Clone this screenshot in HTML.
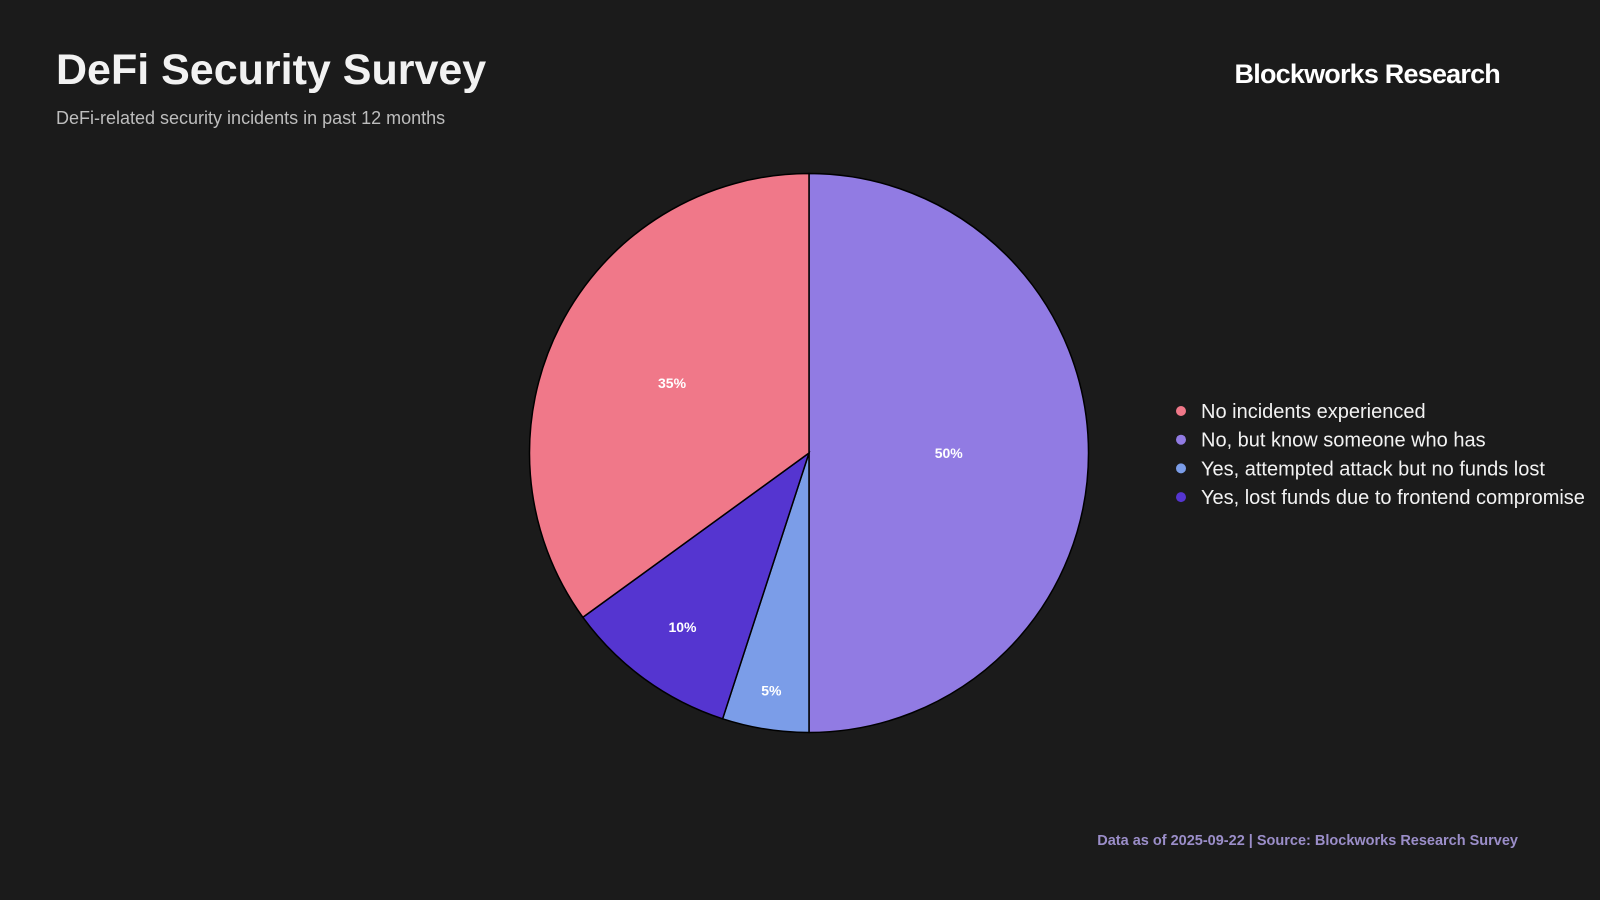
<!DOCTYPE html>
<html><head><meta charset="utf-8"><style>
body{margin:0;width:1600px;height:900px;background:#1b1b1b;overflow:hidden;font-family:"Liberation Sans",Arial,sans-serif;}
.t{position:absolute;white-space:nowrap;}
</style></head><body>
<div class="t" style="left:56px;top:46px;font-size:43px;font-weight:bold;color:#f2f2f2;">DeFi Security Survey</div>
<div class="t" style="left:56px;top:108px;font-size:18px;color:#bdbdbd;">DeFi-related security incidents in past 12 months</div>
<div class="t" style="right:100px;top:59px;font-size:27px;font-weight:bold;color:#fff;letter-spacing:-0.8px;">Blockworks Research</div>
<div class="t" style="right:82px;top:833px;font-size:14.5px;font-weight:bold;color:#9b8ec9;">Data as of 2025-09-22 | Source: Blockworks Research Survey</div>
<svg id="chart" width="1600" height="900" style="position:absolute;left:0;top:0"></svg>
<script>
const categories=["No, but know someone who has","Yes, attempted attack but no funds lost","Yes, lost funds due to frontend compromise","No incidents experienced"];
const values=[50,5,10,35];
const colors=["#917be3","#7b9de8","#5535d0","#f07889"];
const legendOrder=[3,0,1,2];
const NS="http://www.w3.org/2000/svg";
const svg=document.getElementById("chart");
const cx=809,cy=453,r=279.5;
const total=values.reduce((a,b)=>a+b,0);
function pt(a,rad){return [cx+rad*Math.sin(a),cy-rad*Math.cos(a)];}
let a0=0;
values.forEach((v,i)=>{
  const share=v/total,a1=a0+share*2*Math.PI;
  const p0=pt(a0,r),p1=pt(a1,r);
  const path=document.createElementNS(NS,"path");
  path.setAttribute("d",`M${cx},${cy}L${p0[0]},${p0[1]}A${r},${r} 0 ${share>0.5?1:0} 1 ${p1[0]},${p1[1]}Z`);
  path.setAttribute("fill",colors[i]);path.setAttribute("stroke","#000");path.setAttribute("stroke-width","1.5");
  
  
  svg.appendChild(path);
  const f=share>=0.45?0.5:(share>=0.3?0.55:0.95-share*1.8);
  const lp=pt((a0+a1)/2,r*f);
  const t=document.createElementNS(NS,"text");
  t.setAttribute("x",lp[0]);t.setAttribute("y",lp[1]+5);t.setAttribute("text-anchor","middle");
  t.setAttribute("fill","#fff");t.setAttribute("font-size","14");t.setAttribute("font-weight","bold");
  t.setAttribute("font-family","Liberation Sans, Arial, sans-serif");
  t.textContent=Math.round(share*100)+"%";
  
  
  svg.appendChild(t);
  a0=a1;
});
legendOrder.forEach((idx,k)=>{
  const y=411+k*28.7;
  const c=document.createElementNS(NS,"circle");
  c.setAttribute("cx",1181);c.setAttribute("cy",y);c.setAttribute("r",5);c.setAttribute("fill",colors[idx]);
  
  
  svg.appendChild(c);
  const t=document.createElementNS(NS,"text");
  t.setAttribute("x",1201);t.setAttribute("y",y+7);t.setAttribute("fill","#f2f2f2");t.setAttribute("font-size","20");
  t.setAttribute("font-family","Liberation Sans, Arial, sans-serif");
  t.textContent=categories[idx];
  
  
  svg.appendChild(t);
});
</script>
</body></html>
